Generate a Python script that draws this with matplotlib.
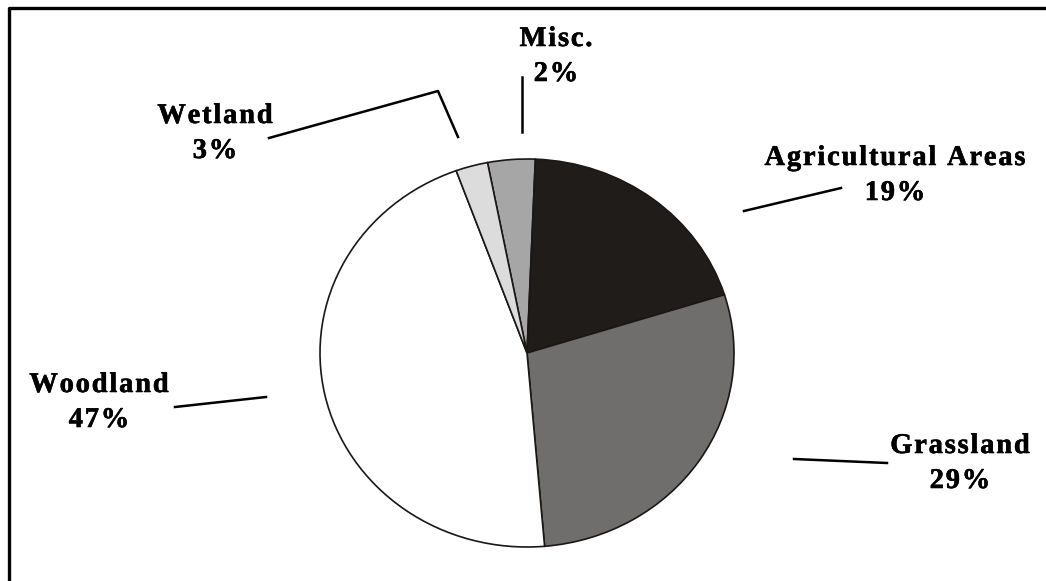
import matplotlib.pyplot as plt
import matplotlib.patheffects as pe
from matplotlib.font_manager import FontProperties, findfont, get_font

# land use shares (slice sizes as drawn) and printed labels
categories = ["Misc.", "Agricultural Areas", "Grassland", "Woodland", "Wetland"]
shares = [3.7, 19.5, 28.5, 45.8, 2.5]
pct_labels = ["2%", "19%", "29%", "47%", "3%"]
colors = ["#a6a6a6", "#201c1a", "#706e6c", "#ffffff", "#dcdcdc"]

W, H = 1046, 581
DPI = 100
fig = plt.figure(figsize=(W / DPI, H / DPI), dpi=DPI)

# pie axes: pie is a bit wider than tall in the original
cx, cy, rx, ry = 527, 353, 207, 194
pad = 1.1
ax = fig.add_axes([(cx - pad * rx) / W, (H - cy - pad * ry) / H,
                   2 * pad * rx / W, 2 * pad * ry / H])
ax.pie(shares, colors=colors, startangle=101, counterclock=False,
       wedgeprops=dict(edgecolor="#1a1716", linewidth=1.2))
ax.set_aspect("auto")
ax.set_xlim(-pad, pad)
ax.set_ylim(-pad, pad)
ax.axis("off")

# overlay in pixel coords for labels, leader lines and frame
ov = fig.add_axes([0, 0, 1, 1], facecolor="none")
ov.set_xlim(0, W)
ov.set_ylim(H, 0)
ov.axis("off")

ov.plot([9, 9, W], [H, 8, 8], color="black", lw=2.4, solid_capstyle="butt")

FS = 20.5
fp = FontProperties(family="Liberation Serif", weight="bold", size=FS)
ft = get_font(findfont(fp))
ft.set_size(FS, DPI)
heavy = [pe.withStroke(linewidth=0.4, foreground="black")]


def spaced_text(x, y, s, gap=1.8):
    # the original labels have wide letter spacing
    adv = [ft.load_char(ord(c)).linearHoriAdvance / 65536 for c in s]
    total = sum(adv) + gap * (len(s) - 1)
    px = x - total / 2
    for c, a in zip(s, adv):
        ov.text(px, y, c, ha="left", va="baseline", fontproperties=fp,
                path_effects=heavy)
        px += a + gap


# (center x, baseline of first line)
label_pos = [(556, 46), (895, 165), (960, 453), (99, 392), (215, 123)]
leaders = [
    ([522, 522], [77, 132]),
    ([744, 841], [211, 188]),
    ([794, 887], [459, 463]),
    ([175, 266], [407, 397]),
    ([269, 438, 458], [138, 91, 137]),
]
for cat, pct, (x, y), (lx, ly) in zip(categories, pct_labels, label_pos, leaders):
    spaced_text(x, y, cat)
    spaced_text(x, y + 35, pct)
    ov.plot(lx, ly, color="black", lw=1.8)

fig.savefig("out.png", dpi=DPI)
